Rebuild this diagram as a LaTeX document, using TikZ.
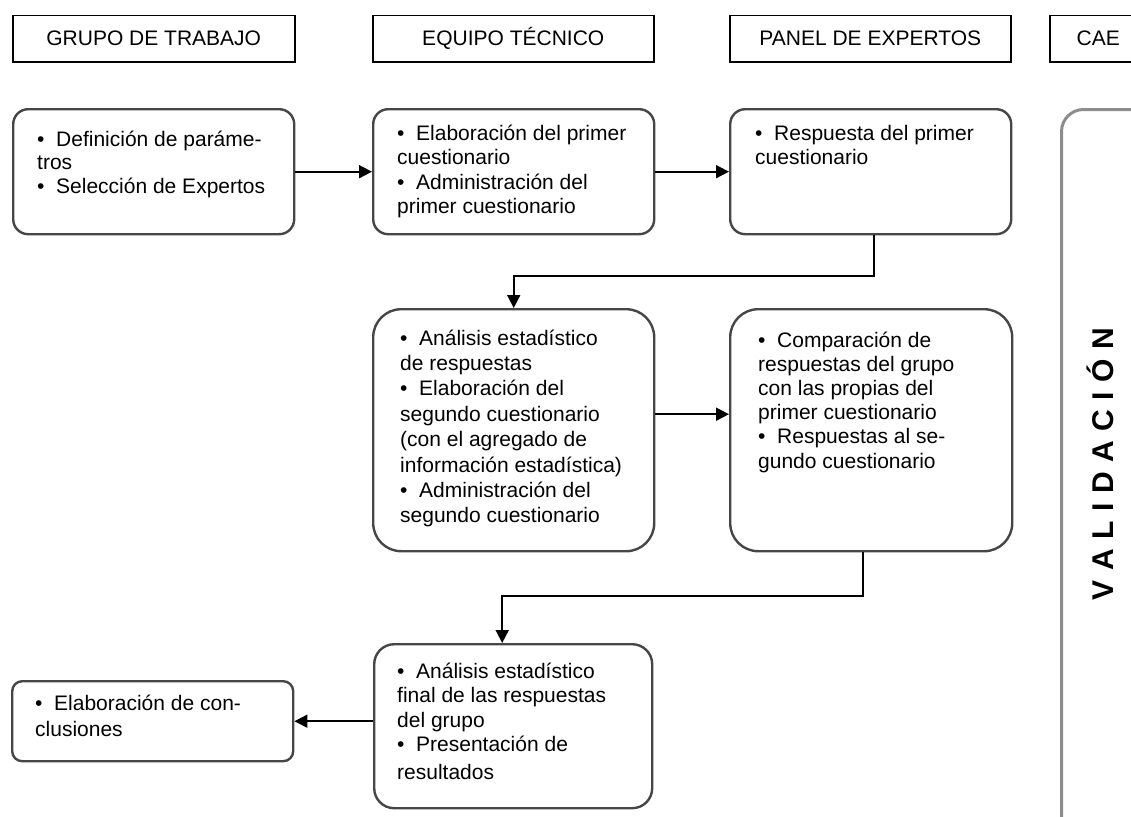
\documentclass[tikz,border=0pt]{standalone}
\usepackage{fontspec}
\setmainfont{Liberation Sans}
\usetikzlibrary{arrows.meta,calc}
\definecolor{boxline}{RGB}{70,70,70}
\definecolor{valline}{RGB}{140,140,140}
\newcommand\mybul{\makebox[19pt][l]{•}}
\newcommand\boxtext[2]{\parbox[t]{275pt}{\fontsize{21pt}{#1}\selectfont\raggedright #2}}
\begin{document}
\begin{tikzpicture}[x=1pt,y=-1pt,
  hdr/.style={draw=black, line width=1.5pt, minimum height=46pt, anchor=north west, inner sep=0pt, font=\fontsize{21pt}{25pt}\selectfont},
  rbox/.style={draw=boxline, line width=2.4pt, anchor=north west, inner sep=0pt, fill=white},
  txt/.style={anchor=base west, inner sep=0pt},
  link/.style={line width=1.7pt, draw=black},
  arr/.style={link, -{Triangle[length=13pt,width=13pt]}}]
\useasboundingbox (0,0) rectangle (1131,816);
\clip (0,0) rectangle (1131,816);
% headers
\node[hdr, minimum width=282pt] (h1) at (12,15) {GRUPO DE TRABAJO};
\node[hdr, minimum width=281pt] (h2) at (372,15) {EQUIPO TÉCNICO};
\node[hdr, minimum width=281pt] (h3) at (729,15) {PANEL DE EXPERTOS};
\node[hdr, minimum width=97pt] (h4) at (1049,15) {CAE};
% boxes
\node[rbox, minimum width=281pt, minimum height=125pt, rounded corners=15pt] (b1) at (12,108) {};
\node[rbox, minimum width=281pt, minimum height=125pt, rounded corners=15pt] (b2) at (372,108) {};
\node[rbox, minimum width=281pt, minimum height=125pt, rounded corners=15pt] (b3) at (729,108) {};
\node[rbox, minimum width=281pt, minimum height=242pt, rounded corners=28pt] (b4) at (372,308) {};
\node[rbox, minimum width=282pt, minimum height=242pt, rounded corners=28pt] (b5) at (729,308) {};
\node[rbox, minimum width=278pt, minimum height=164pt, rounded corners=20pt] (b6) at (373,643) {};
\node[rbox, minimum width=281pt, minimum height=80pt, rounded corners=10pt] (b7) at (11,680) {};
\node[draw=valline, line width=3pt, anchor=north west, inner sep=0pt, minimum width=140pt, minimum height=760pt, rounded corners=22pt] (val) at (1060,108) {};
% texts
\node[txt] (t1) at (37,146) {\boxtext{23.5pt}{\mybul Definición de paráme-\\tros\\\mybul Selección de Expertos}};
\node[txt] (t2) at (397,140) {\boxtext{24.5pt}{\mybul Elaboración del primer\\cuestionario\\\mybul Administración del\\primer cuestionario}};
\node[txt] (t3) at (755,140) {\boxtext{24.5pt}{\mybul Respuesta del primer\\cuestionario}};
\node[txt] (t4) at (400,345) {\boxtext{25.4pt}{\mybul Análisis estadístico\\de respuestas\\\mybul Elaboración del\\segundo cuestionario\\(con el agregado de\\información estadística)\\\mybul Administración del\\segundo cuestionario}};
\node[txt] (t5) at (758,347) {\boxtext{24.2pt}{\mybul Comparación de\\respuestas del grupo\\con las propias del\\primer cuestionario\\\mybul Respuestas al se-\\gundo cuestionario}};
\node[txt] (t6) at (397,678) {\boxtext{24.5pt}{\mybul Análisis estadístico\\final de las respuestas\\del grupo\\\mybul Presentación de\\[3pt]resultados}};
\node[txt] (t7) at (35,710) {\boxtext{26pt}{\mybul Elaboración de con-\\clusiones}};
\node[rotate=90, font=\bfseries\fontsize{30pt}{34pt}\selectfont, inner sep=0pt] (vt) at (1100,464)
  {V\kern9.6pt A\kern9.6pt L\kern9.6pt I\kern9.6pt D\kern9.6pt A\kern9.6pt C\kern9.6pt I\kern9.6pt Ó\kern9.6pt N};
% connectors
\draw[arr] (b1.east) -- (b2.west);
\draw[arr] (b2.east) -- (b3.west);
\coordinate (m1) at (0,276);
\draw[arr] ([xshift=3.5pt]b3.south) -- ([xshift=3.5pt]b3.south |- m1) -| (b4.north);
\draw[arr] ([yshift=16pt]b4.east) -- ([yshift=16pt]b5.west);
\coordinate (m2) at (0,596);
\draw[arr] ([xshift=-8pt]b5.south) -- ([xshift=-8pt]b5.south |- m2) -| ([xshift=-11pt]b6.north);
\draw[arr] (b6.west |- b7.east) -- (b7.east);
\end{tikzpicture}
\end{document}
